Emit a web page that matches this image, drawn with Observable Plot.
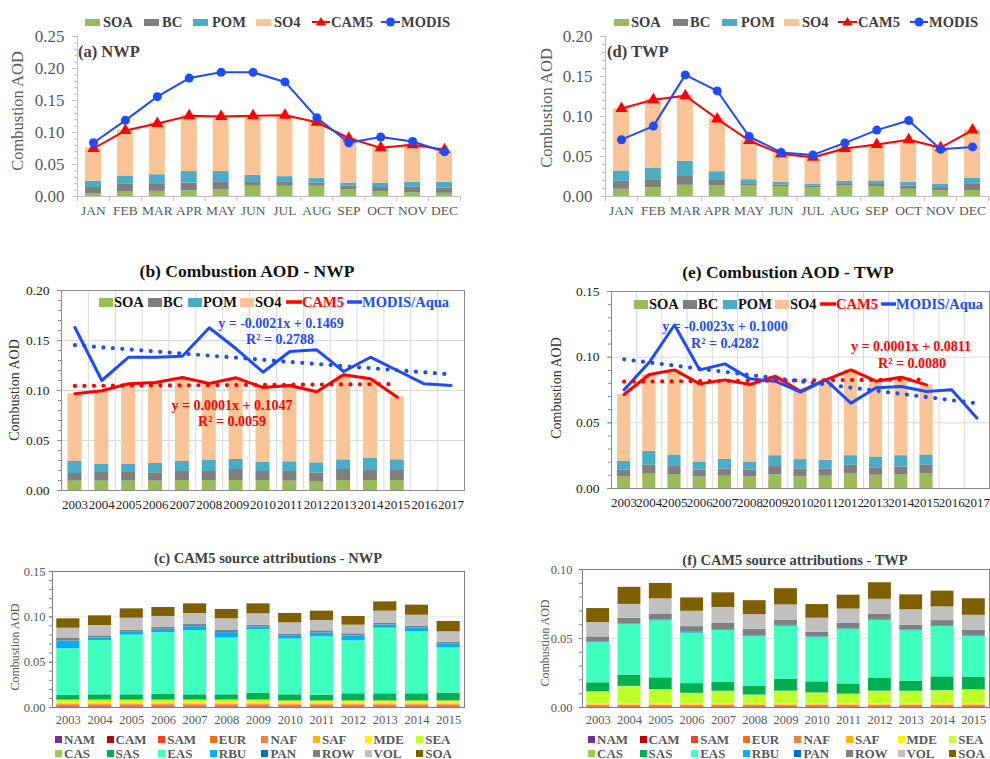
<!DOCTYPE html>
<html><head><meta charset="utf-8">
<script src="https://cdn.jsdelivr.net/npm/d3@7"></script>
<script src="https://cdn.jsdelivr.net/npm/@observablehq/plot@0.6"></script>
<style>
body{margin:0;background:#fff;}
#root{position:relative;width:990px;height:759px;overflow:hidden;background:#fff;}
#root, #root *, #root svg text{font-family:"Liberation Serif", serif !important;}
.abs{position:absolute;white-space:nowrap;line-height:1;}
svg{overflow:visible;}
</style></head><body><div id="root"></div>
<script>
// ---------------- DATA ----------------
const months = ["JAN","FEB","MAR","APR","MAY","JUN","JUL","AUG","SEP","OCT","NOV","DEC"];
const compNames = ["SOA","BC","POM","SO4"];
const compColors = ["#9BBB59","#7F7F7F","#4BACC6","#FAC496"];

// (a) NWP monthly
const nwpMonSOA = [0.004,0.007,0.008,0.009,0.010,0.016,0.016,0.016,0.011,0.007,0.006,0.005];
const nwpMonBC  = [0.010,0.012,0.012,0.012,0.012,0.007,0.006,0.005,0.005,0.007,0.009,0.008];
const nwpMonPOM = [0.010,0.013,0.014,0.018,0.017,0.010,0.009,0.007,0.005,0.007,0.007,0.009];
const nwpMonSO4 = [0.052,0.072,0.081,0.088,0.087,0.093,0.096,0.088,0.070,0.056,0.060,0.049];
const nwpMonCAM5 = [0.075,0.103,0.114,0.126,0.125,0.126,0.127,0.116,0.091,0.076,0.081,0.073];
const nwpMonMODIS = [0.084,0.119,0.156,0.185,0.194,0.194,0.179,0.123,0.084,0.093,0.086,0.070];

// (d) TWP monthly
const twpMonSOA = [0.009,0.011,0.014,0.013,0.013,0.0125,0.011,0.013,0.0125,0.009,0.007,0.0075];
const twpMonBC  = [0.010,0.010,0.011,0.007,0.003,0.002,0.002,0.003,0.0025,0.004,0.003,0.0075];
const twpMonPOM = [0.013,0.014,0.019,0.011,0.005,0.0034,0.002,0.003,0.0045,0.005,0.005,0.0075];
const twpMonSO4 = [0.078,0.087,0.082,0.0665,0.049,0.036,0.035,0.043,0.0455,0.052,0.046,0.0605];
const twpMonCAM5 = [0.110,0.121,0.126,0.097,0.070,0.053,0.049,0.060,0.065,0.071,0.061,0.083];
const twpMonMODIS = [0.071,0.088,0.152,0.132,0.075,0.055,0.052,0.067,0.083,0.095,0.059,0.062];

// (b),(e) annual
const yearsAll = ["2003","2004","2005","2006","2007","2008","2009","2010","2011","2012","2013","2014","2015","2016","2017"];
const yearsCAM = ["2003","2004","2005","2006","2007","2008","2009","2010","2011","2012","2013","2014","2015"];

const nwpAnnSOA = [0.0093,0.0093,0.0093,0.0093,0.010,0.010,0.010,0.010,0.0093,0.0083,0.010,0.010,0.010];
const nwpAnnBC  = [0.0077,0.0087,0.0087,0.0084,0.009,0.009,0.011,0.009,0.0097,0.009,0.011,0.010,0.010];
const nwpAnnPOM = [0.012,0.008,0.008,0.0093,0.010,0.011,0.010,0.009,0.0097,0.0104,0.0097,0.012,0.0107];
const nwpAnnSO4 = [0.0677,0.0737,0.0807,0.081,0.084,0.077,0.0817,0.075,0.0763,0.071,0.085,0.0797,0.0626];
const nwpAnnCAM5 = [0.0967,0.0997,0.1067,0.108,0.113,0.107,0.1127,0.103,0.105,0.0987,0.1157,0.1117,0.0933];
const nwpAnnMODIS = [0.163,0.110,0.1333,0.1333,0.1343,0.1627,0.1417,0.1183,0.139,0.1407,0.119,0.1333,0.120,0.1067,0.105];

const twpAnnSOA = [0.0089,0.0109,0.0104,0.0089,0.0094,0.0089,0.0104,0.0089,0.0094,0.0109,0.0101,0.0104,0.0111];
const twpAnnBC  = [0.005,0.0068,0.0063,0.005,0.0055,0.005,0.0063,0.0058,0.0055,0.0068,0.0056,0.006,0.0066];
const twpAnnPOM = [0.0068,0.0106,0.0088,0.0063,0.0074,0.0063,0.0083,0.0073,0.0066,0.0073,0.0083,0.0086,0.0078];
const twpAnnSO4 = [0.0509,0.0585,0.0648,0.0595,0.0604,0.059,0.0605,0.0521,0.0612,0.0653,0.0577,0.0597,0.0534];
const twpAnnCAM5 = [0.0716,0.0868,0.0903,0.0797,0.0827,0.0792,0.0855,0.0741,0.0827,0.0903,0.0817,0.0847,0.0789];
const twpAnnMODIS = [0.0751,0.0961,0.1245,0.0903,0.0949,0.0835,0.0817,0.0734,0.0827,0.065,0.0767,0.0777,0.0739,0.0751,0.0536];

const trendTextNwpModis = ["y = -0.0021x + 0.1469","R² = 0.2788"];
const trendTextNwpCam = ["y = 0.0001x + 0.1047","R² = 0.0059"];
const trendTextTwpModis = ["y = -0.0023x + 0.1000","R² = 0.4282"];
const trendTextTwpCam = ["y = 0.0001x + 0.0811","R² = 0.0080"];

// (c),(f) source attributions
const regions = ["NAM","CAM","SAM","EUR","NAF","SAF","MDE","SEA","CAS","SAS","EAS","RBU","PAN","ROW","VOL","SOA"];
const regionColors = ["#7030A0","#C00000","#FF4020","#FF6A14","#EE8040","#FFB400","#FFF000","#BFFF2A","#92D050","#00B050","#3FFFBF","#00B0F0","#0070C0","#808080","#C0C0C0","#7F6000"];

const cNAM = [0.0002,0.0002,0.0002,0.0002,0.0002,0.0002,0.0002,0.0002,0.0002,0.0002,0.0002,0.0002,0.0002];
const cCAM = [0.0003,0.0003,0.0003,0.0003,0.0003,0.0003,0.0003,0.0003,0.0003,0.0003,0.0003,0.0003,0.0003];
const cSAM = [0.0008,0.0008,0.0008,0.0008,0.0008,0.0008,0.0008,0.0008,0.0008,0.0008,0.0008,0.0008,0.0008];
const cEUR = [0.0014,0.0014,0.0014,0.0014,0.0014,0.0014,0.0014,0.0012,0.0012,0.0012,0.0012,0.0012,0.0012];
const cNAF = [0.0006,0.0006,0.0006,0.0006,0.0006,0.0006,0.0006,0.0006,0.0006,0.0006,0.0006,0.0006,0.0006];
const cSAF = [0.0008,0.0008,0.0008,0.0008,0.0008,0.0008,0.0008,0.0008,0.0008,0.0008,0.0008,0.0008,0.0008];
const cMDE = [0.0025,0.0025,0.0025,0.0025,0.0025,0.0025,0.0025,0.0018,0.0018,0.0018,0.0018,0.0018,0.0018];
const cSEA = [0.0010,0.0010,0.0010,0.0010,0.0010,0.0010,0.0010,0.0010,0.0010,0.0010,0.0010,0.0010,0.0010];
const cCAS = [0.0008,0.0008,0.0008,0.0008,0.0008,0.0008,0.0008,0.0008,0.0008,0.0008,0.0008,0.0008,0.0008];
const cSAS = [0.0048,0.0056,0.0056,0.0063,0.0056,0.0056,0.0074,0.0065,0.0061,0.0076,0.0076,0.0076,0.0083];
const cEAS = [0.0515,0.0599,0.0658,0.0677,0.0709,0.0625,0.0699,0.0614,0.0643,0.0584,0.0724,0.0684,0.0500];
const cRBU = [0.0085,0.0026,0.0037,0.0036,0.0041,0.0059,0.0029,0.0029,0.0041,0.0052,0.0033,0.0040,0.0041];
const cPAN = [0.0003,0.0003,0.0003,0.0003,0.0003,0.0003,0.0003,0.0003,0.0003,0.0003,0.0003,0.0003,0.0003];
const cROW = [0.0026,0.0022,0.0015,0.0023,0.0022,0.0022,0.0019,0.0019,0.0023,0.0023,0.0019,0.0019,0.0019];
const cVOL = [0.0114,0.0114,0.0132,0.0118,0.0122,0.0129,0.0125,0.0129,0.0114,0.0095,0.0133,0.0121,0.0114];
const cSOA = [0.0103,0.0107,0.0103,0.0099,0.0106,0.0103,0.0110,0.0103,0.0103,0.0096,0.0102,0.0111,0.0114];

const fNAM = [0.0001,0.0001,0.0001,0.0001,0.0001,0.0001,0.0001,0.0001,0.0001,0.0001,0.0001,0.0001,0.0001];
const fCAM = [0.0002,0.0002,0.0002,0.0002,0.0002,0.0002,0.0002,0.0002,0.0002,0.0002,0.0002,0.0002,0.0002];
const fSAM = [0.0004,0.0004,0.0004,0.0004,0.0004,0.0004,0.0004,0.0004,0.0004,0.0004,0.0004,0.0004,0.0004];
const fEUR = [0.0006,0.0006,0.0006,0.0006,0.0006,0.0006,0.0006,0.0006,0.0006,0.0006,0.0006,0.0006,0.0006];
const fNAF = [0.0003,0.0003,0.0003,0.0003,0.0003,0.0003,0.0003,0.0003,0.0003,0.0003,0.0003,0.0003,0.0003];
const fSAF = [0.0004,0.0004,0.0004,0.0004,0.0004,0.0004,0.0004,0.0004,0.0004,0.0004,0.0004,0.0004,0.0004];
const fMDE = [0.0005,0.0006,0.0005,0.0004,0.0005,0.0004,0.0006,0.0005,0.0005,0.0006,0.0005,0.0005,0.0006];
const fSEA = [0.0086,0.0124,0.0102,0.0076,0.0090,0.0064,0.0090,0.0078,0.0069,0.0090,0.0090,0.0095,0.0100];
const fCAS = [0.0003,0.0003,0.0003,0.0003,0.0003,0.0003,0.0003,0.0003,0.0003,0.0003,0.0003,0.0003,0.0003];
const fSAS = [0.0065,0.0082,0.0085,0.0070,0.0063,0.0065,0.0087,0.0080,0.0074,0.0095,0.0073,0.0099,0.0092];
const fEAS = [0.0290,0.0365,0.0413,0.0365,0.0377,0.0357,0.0382,0.0319,0.0392,0.0417,0.0365,0.0365,0.0292];
const fRBU = [0.0005,0.0005,0.0005,0.0005,0.0005,0.0005,0.0005,0.0005,0.0005,0.0005,0.0005,0.0005,0.0005];
const fPAN = [0.0002,0.0002,0.0002,0.0002,0.0002,0.0002,0.0002,0.0002,0.0002,0.0002,0.0002,0.0002,0.0002];
const fROW = [0.0036,0.0039,0.0039,0.0041,0.0044,0.0047,0.0039,0.0034,0.0039,0.0039,0.0034,0.0036,0.0039];
const fVOL = [0.0104,0.0101,0.0113,0.0111,0.0116,0.0106,0.0109,0.0101,0.0104,0.0107,0.0111,0.0099,0.0109];
const fSOA = [0.0101,0.0124,0.0112,0.0097,0.0106,0.0101,0.0118,0.0099,0.0101,0.0120,0.0108,0.0114,0.0120];

// tick values
const ticksA = [0,0.05,0.10,0.15,0.20,0.25];
const ticksD = [0,0.05,0.10,0.15,0.20];
const ticksB = [0,0.05,0.10,0.15,0.20];
const ticksE = [0,0.05,0.10,0.15];
const ticksC = [0,0.05,0.10,0.15];
const ticksF = [0,0.05,0.10];

// ---------------- HELPERS ----------------
const FONT = "Liberation Serif, serif";
const RED = "#FF0000", BLUE = "#1F4BFF";
const root = document.getElementById("root");
function place(node, left, top){ node.style.position="absolute"; node.style.left=left+"px"; node.style.top=top+"px"; root.appendChild(node); }
function txt(str, x, y, o={}){
  const d=document.createElement("div"); d.className="abs"; d.textContent=str;
  d.style.left=x+"px"; d.style.top=y+"px";
  d.style.fontSize=(o.size||14)+"px"; d.style.fontWeight=o.weight||"normal"; d.style.color=o.color||"#000";
  const a=o.anchor||"middle"; const tx=a==="middle"?"-50%":a==="end"?"-100%":"0";
  d.style.transform=`translate(${tx},-50%)`+(o.rotate?` rotate(${o.rotate}deg)`:"");
  root.appendChild(d); return d;
}
function sw(x, yc, w, h, color){
  const d=document.createElement("div"); d.className="abs";
  d.style.left=x+"px"; d.style.top=(yc-h/2)+"px"; d.style.width=w+"px"; d.style.height=h+"px"; d.style.background=color;
  root.appendChild(d);
}
function lineKey(x1, x2, yc, color, width, marker){
  const ns="http://www.w3.org/2000/svg";
  const s=document.createElementNS(ns,"svg"); const w=x2-x1;
  s.setAttribute("width",w); s.setAttribute("height",14);
  s.style.position="absolute"; s.style.left=x1+"px"; s.style.top=(yc-7)+"px";
  const l=document.createElementNS(ns,"line");
  l.setAttribute("x1",0);l.setAttribute("x2",w);l.setAttribute("y1",7);l.setAttribute("y2",7);
  l.setAttribute("stroke",color);l.setAttribute("stroke-width",width); s.appendChild(l);
  if(marker==="circle"){const c=document.createElementNS(ns,"circle");c.setAttribute("cx",w/2);c.setAttribute("cy",7);c.setAttribute("r",4.5);c.setAttribute("fill",color);s.appendChild(c);}
  if(marker==="triangle"){const p=document.createElementNS(ns,"path");const cx=w/2;p.setAttribute("d",`M${cx},2 L${cx+5},10.5 L${cx-5},10.5 Z`);p.setAttribute("fill",color);s.appendChild(p);}
  root.appendChild(s);
}
function fit(vals){
  const xs=vals.map((_,i)=>i+1); const mx=d3.mean(xs), my=d3.mean(vals);
  const b=d3.sum(xs,(x,i)=>(x-mx)*(vals[i]-my))/d3.sum(xs,x=>(x-mx)**2);
  return xs.map(x=>my+b*(x-mx));
}
function minorTicks(max){ return d3.range(0, Math.round(max*100)+1).map(k=>k/100); }

// ---------------- MONTHLY PANELS (a),(d) ----------------
function monthlyPlot(cfg){
  const W=cfg.width, H=225, mL=cfg.mL, mR=cfg.mR, mT=36, mB=29;
  const step=(W-mL-mR)/months.length;
  const comps=[cfg.soa,cfg.bc,cfg.pom,cfg.so4];
  const rows=[];
  compNames.forEach((c,k)=>months.forEach((m,i)=>rows.push({month:m, comp:c, value:comps[k][i]})));
  const cam=months.map((m,i)=>({month:m, value:cfg.cam[i]}));
  const modis=months.map((m,i)=>({month:m, value:cfg.modis[i]}));
  const axisC="#BFBFBF";
  return Plot.plot({
    width:W, height:H, marginLeft:mL, marginRight:mR, marginTop:mT, marginBottom:mB,
    style:{fontFamily:FONT, fontSize:"17px", color:"#595959", background:"transparent", overflow:"visible"},
    x:{domain:months, paddingInner:0.5, paddingOuter:0.25, round:false, axis:null, label:null},
    y:{domain:[0,cfg.yMax], axis:null, label:null},
    color:{domain:compNames, range:compColors},
    marks:[
      Plot.barY(rows,{x:"month", y:"value", fill:"comp"}),
      Plot.ruleY([0],{stroke:axisC}),
      Plot.ruleX([months[0]],{dx:-step/2, stroke:axisC}),
      Plot.ruleX(months,{dx:step/2, stroke:axisC, insetTop:H-mT-mB, insetBottom:-5}),
      Plot.ruleX([months[0]],{dx:-step/2, stroke:axisC, insetTop:H-mT-mB, insetBottom:-5}),
      Plot.axisY({ticks:minorTicks(cfg.yMax), tickSize:3, tickFormat:()=>"", stroke:axisC, label:null}),
      Plot.axisY({ticks:cfg.yTicks, tickSize:5, tickPadding:8, tickFormat:d=>d.toFixed(2), stroke:axisC, fill:"#595959", fontSize:17, label:null}),
      Plot.axisX({tickSize:0, tickPadding:9, fill:"#595959", fontSize:13.5, label:null}),
      Plot.line(cam,{x:"month", y:"value", stroke:RED, strokeWidth:2}),
      Plot.dot(cam,{x:"month", y:"value", symbol:"triangle", fill:RED, r:4.5}),
      Plot.line(modis,{x:"month", y:"value", stroke:BLUE, strokeWidth:2}),
      Plot.dot(modis,{x:"month", y:"value", fill:BLUE, r:4.5})
    ]
  });
}

place(monthlyPlot({width:470, mL:77, mR:10, yMax:0.25, yTicks:ticksA,
  soa:nwpMonSOA, bc:nwpMonBC, pom:nwpMonPOM, so4:nwpMonSO4, cam:nwpMonCAM5, modis:nwpMonMODIS}), 0, 0);
place(monthlyPlot({width:495, mL:110, mR:2, yMax:0.20, yTicks:ticksD,
  soa:twpMonSOA, bc:twpMonBC, pom:twpMonPOM, so4:twpMonSO4, cam:twpMonCAM5, modis:twpMonMODIS}), 495, 0);

// ---------------- ANNUAL PANELS (b),(e) ----------------
function annualPlot(cfg){
  const W=cfg.width, H=275, mL=cfg.mL, mR=cfg.mR, mT=cfg.mT, mB=cfg.mB;
  const step=(W-mL-mR)/yearsAll.length;
  const comps=[cfg.soa,cfg.bc,cfg.pom,cfg.so4];
  const rows=[];
  compNames.forEach((c,k)=>yearsCAM.forEach((y,i)=>rows.push({year:y, comp:c, value:comps[k][i]})));
  const cam=yearsCAM.map((y,i)=>({year:y, value:cfg.cam[i]}));
  const modis=yearsAll.map((y,i)=>({year:y, value:cfg.modis[i]}));
  const camFit=fit(cfg.cam), modisFit=fit(cfg.modis);
  const camTrend=yearsCAM.map((y,i)=>({year:y, value:camFit[i]}));
  const modisTrend=yearsAll.map((y,i)=>({year:y, value:modisFit[i]}));
  return Plot.plot({
    width:W, height:H, marginLeft:mL, marginRight:mR, marginTop:mT, marginBottom:mB,
    style:{fontFamily:FONT, fontSize:"13px", color:"#333", background:"transparent", overflow:"visible"},
    x:{domain:yearsAll, paddingInner:0.48, paddingOuter:0.24, round:false, axis:null, label:null},
    y:{domain:[0,cfg.yMax], axis:null, label:null},
    color:{domain:compNames, range:compColors},
    marks:[
      Plot.ruleY(cfg.yTicks.slice(1),{stroke:"#D9D9D9"}),
      Plot.ruleX(yearsAll.slice(0,-1),{dx:step/2, stroke:"#D9D9D9"}),
      Plot.barY(rows,{x:"year", y:"value", fill:"comp"}),
      Plot.line(cam,{x:"year", y:"value", stroke:RED, strokeWidth:3}),
      Plot.line(modis,{x:"year", y:"value", stroke:BLUE, strokeWidth:3}),
      Plot.line(camTrend,{x:"year", y:"value", stroke:RED, strokeWidth:4.2, strokeDasharray:"0,9.5", strokeLinecap:"round"}),
      Plot.line(modisTrend,{x:"year", y:"value", stroke:BLUE, strokeWidth:4.2, strokeDasharray:"0,9.5", strokeLinecap:"round"}),
      Plot.frame({stroke:"#8C8C8C"}),
      Plot.axisY({ticks:minorTicks(cfg.yMax), tickSize:3, tickFormat:()=>"", stroke:"#8C8C8C", label:null}),
      Plot.axisY({ticks:cfg.yTicks, tickSize:4, tickPadding:8, tickFormat:d=>d.toFixed(2), stroke:"#8C8C8C", fill:"#222", fontSize:13.5, label:null}),
      Plot.axisX({tickSize:0, tickPadding:9, fill:"#222", fontSize:13, label:null})
    ]
  });
}

place(annualPlot({width:470, mL:61, mR:6, mT:50, mB:25, yMax:0.20, yTicks:ticksB,
  soa:nwpAnnSOA, bc:nwpAnnBC, pom:nwpAnnPOM, so4:nwpAnnSO4, cam:nwpAnnCAM5, modis:nwpAnnMODIS}), 0, 240);
place(annualPlot({width:495, mL:116, mR:1, mT:51, mB:27, yMax:0.15, yTicks:ticksE,
  soa:twpAnnSOA, bc:twpAnnBC, pom:twpAnnPOM, so4:twpAnnSO4, cam:twpAnnCAM5, modis:twpAnnMODIS}), 495, 240);

// ---------------- SOURCE PANELS (c),(f) ----------------
function sourcePlot(cfg){
  const W=cfg.width, H=215;
  const rows=[];
  regions.forEach((r,k)=>yearsCAM.forEach((y,i)=>rows.push({year:y, region:r, value:cfg.data[k][i]})));
  return Plot.plot({
    width:W, height:H, marginLeft:cfg.mL, marginRight:cfg.mR, marginTop:cfg.mT, marginBottom:cfg.mB,
    style:{fontFamily:FONT, fontSize:"12.5px", color:"#595959", background:"transparent", overflow:"visible"},
    x:{domain:yearsCAM, paddingInner:0.27, paddingOuter:0.135, round:false, axis:null, label:null},
    y:{domain:[0,cfg.yMax], axis:null, label:null},
    color:{domain:regions, range:regionColors},
    marks:[
      Plot.ruleY(cfg.yTicks.slice(1),{stroke:"#E6E6E6"}),
      Plot.barY(rows,{x:"year", y:"value", fill:"region"}),
      Plot.frame({stroke:"#7F7F7F"}),
      Plot.axisY({ticks:minorTicks(cfg.yMax), tickSize:3, tickFormat:()=>"", stroke:"#7F7F7F", label:null}),
      Plot.axisY({ticks:cfg.yTicks, tickSize:3, tickPadding:cfg.tp, tickFormat:d=>d.toFixed(2), stroke:"#7F7F7F", fill:"#595959", fontSize:12.5, label:null}),
      Plot.axisX({tickSize:0, tickPadding:8, fill:"#595959", fontSize:12.5, label:null})
    ]
  });
}
place(sourcePlot({width:470, mL:52, mR:6, mT:51, mB:28, yMax:0.15, yTicks:ticksC, tp:4,
  data:[cNAM,cCAM,cSAM,cEUR,cNAF,cSAF,cMDE,cSEA,cCAS,cSAS,cEAS,cRBU,cPAN,cROW,cVOL,cSOA]}), 0, 520);
place(sourcePlot({width:495, mL:87, mR:1, mT:49, mB:28, yMax:0.10, yTicks:ticksF, tp:7,
  data:[fNAM,fCAM,fSAM,fEUR,fNAF,fSAF,fMDE,fSEA,fCAS,fSAS,fEAS,fRBU,fPAN,fROW,fVOL,fSOA]}), 495, 520);

// ---------------- TEXT, TITLES, LEGENDS ----------------
// (a)
txt("Combustion AOD",18,111,{size:16.5,color:"#595959",rotate:-90});
txt("(a) NWP",78,52,{size:16.5,weight:"bold",color:"#404040",anchor:"start"});
[[85,103],[144,162],[193,212],[256,274]].forEach(([s,t],k)=>{sw(s,22,15,7,compColors[k]); txt(compNames[k],t,22,{size:14.5,weight:"bold",color:"#404040",anchor:"start"});});
lineKey(312,330,22,RED,2,"triangle"); txt("CAM5",331,22,{size:14.5,weight:"bold",color:"#404040",anchor:"start"});
lineKey(381,400,22,BLUE,2,"circle"); txt("MODIS",401,22,{size:14.5,weight:"bold",color:"#404040",anchor:"start"});
// (d)
txt("Combustion AOD",547,108,{size:16.5,color:"#595959",rotate:-90});
txt("(d) TWP",607,52,{size:16.5,weight:"bold",color:"#404040",anchor:"start"});
[[614,631],[673,690],[722,741],[784,802]].forEach(([s,t],k)=>{sw(s,22,15,7,compColors[k]); txt(compNames[k],t,22,{size:14.5,weight:"bold",color:"#404040",anchor:"start"});});
lineKey(838,857,22,RED,2,"triangle"); txt("CAM5",858,22,{size:14.5,weight:"bold",color:"#404040",anchor:"start"});
lineKey(910,928,22,BLUE,2,"circle"); txt("MODIS",929,22,{size:14.5,weight:"bold",color:"#404040",anchor:"start"});

// (b)
txt("(b) Combustion AOD - NWP",247,272,{size:17.5,weight:"bold",color:"#111"});
txt("Combustion AOD",15,390,{size:14,color:"#333",rotate:-90});
[[99,114],[148,163],[188,203],[240,255]].forEach(([s,t],k)=>{sw(s,302,14,9,compColors[k]); txt(compNames[k],t,302,{size:14.5,weight:"bold",color:"#111",anchor:"start"});});
lineKey(286,302,302,RED,3.5); txt("CAM5",302,302,{size:14.5,weight:"bold",color:RED,anchor:"start"});
lineKey(347,362,302,BLUE,3.5); txt("MODIS/Aqua",362,302,{size:14.5,weight:"bold",color:BLUE,anchor:"start"});
txt(trendTextNwpModis[0],281,324,{size:14,weight:"bold",color:BLUE});
txt(trendTextNwpModis[1],280,340,{size:14,weight:"bold",color:BLUE});
txt(trendTextNwpCam[0],232,406,{size:14,weight:"bold",color:RED});
txt(trendTextNwpCam[1],232,422,{size:14,weight:"bold",color:RED});

// (e)
txt("(e) Combustion AOD - TWP",788,273,{size:17.5,weight:"bold",color:"#111"});
txt("Combustion AOD",557,388,{size:14,color:"#333",rotate:-90});
[[634,649],[683,698],[723,738],[775,790]].forEach(([s,t],k)=>{sw(s,304,14,9,compColors[k]); txt(compNames[k],t,304,{size:14.5,weight:"bold",color:"#111",anchor:"start"});});
lineKey(820,836,304,RED,3.5); txt("CAM5",836,304,{size:14.5,weight:"bold",color:RED,anchor:"start"});
lineKey(881,896,304,BLUE,3.5); txt("MODIS/Aqua",896,304,{size:14.5,weight:"bold",color:BLUE,anchor:"start"});
txt(trendTextTwpModis[0],725,327,{size:14,weight:"bold",color:BLUE});
txt(trendTextTwpModis[1],725,344,{size:14,weight:"bold",color:BLUE});
txt(trendTextTwpCam[0],911,347,{size:14,weight:"bold",color:RED});
txt(trendTextTwpCam[1],912,364,{size:14,weight:"bold",color:RED});

// (c), (f)
txt("(c) CAM5 source attributions - NWP",268,558,{size:14.5,weight:"bold",color:"#404040"});
txt("Combustion AOD",15,647,{size:12,color:"#595959",rotate:-90});
txt("(f) CAM5 source attributions - TWP",795,560,{size:14.5,weight:"bold",color:"#404040"});
txt("Combustion AOD",545,643,{size:12,color:"#595959",rotate:-90});
function srcLegend(x0){
  regions.forEach((r,k)=>{
    const col=k%8, row=Math.floor(k/8);
    const x=x0+51.6*col, y=row?753:739;
    sw(x,y,7,7,regionColors[k]);
    txt(r,x+9,y,{size:13,weight:"bold",color:"#595959",anchor:"start"});
  });
}
srcLegend(55); srcLegend(588);
</script></body></html>
